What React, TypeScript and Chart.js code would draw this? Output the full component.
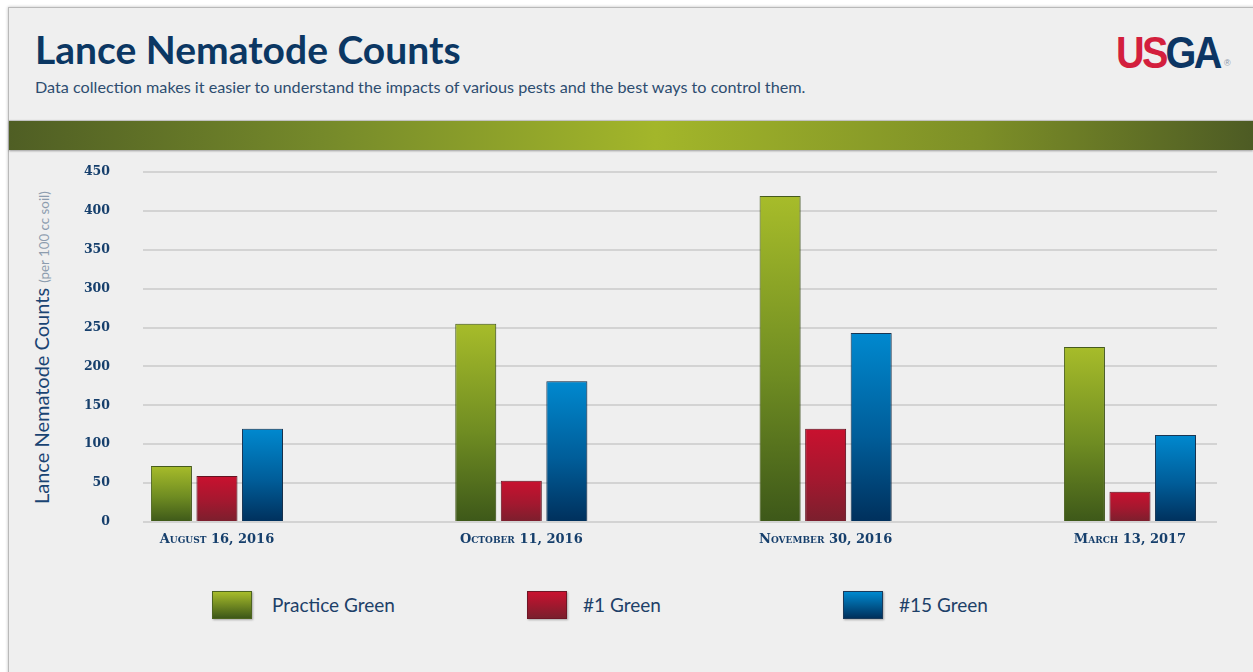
import React, { useEffect, useRef } from 'react';
import { Chart, registerables } from 'chart.js';

Chart.register(...registerables);

const categories = ['August 16, 2016', 'October 11, 2016', 'November 30, 2016', 'March 13, 2017'];
const seriesNames = ['Practice Green', '#1 Green', '#15 Green'];
const practiceGreen = [72, 255, 419, 225];
const green1 = [59, 53, 120, 39];
const green15 = [120, 181, 243, 112];
const yTickValues = [0, 50, 100, 150, 200, 250, 300, 350, 400, 450];

const palettes = [
  { stops: ['#a7bc2a', '#6f8c22', '#3d5819'], border: '#4d6420' },
  { stops: ['#c9112f', '#a3182f', '#7a1f2d'], border: '#6e1626' },
  { stops: ['#0089cf', '#005d99', '#00305c'], border: '#1b3a5a' },
];

function gradientFill(stops: string[]) {
  return (ctx: any) => {
    const chart = ctx.chart;
    const y = chart.scales && chart.scales.y;
    if (!y || ctx.type !== 'data' || !chart.chartArea) return stops[1];
    const v = ctx.parsed ? ctx.parsed.y : 0;
    const t = y.getPixelForValue(v);
    const b = y.getPixelForValue(0);
    if (!isFinite(t) || !isFinite(b) || t === b) return stops[1];
    const g = chart.ctx.createLinearGradient(0, t, 0, b);
    g.addColorStop(0, stops[0]);
    g.addColorStop(0.55, stops[1]);
    g.addColorStop(1, stops[2]);
    return g;
  };
}

const shadowPlugin = {
  id: 'barShadow',
  beforeDatasetsDraw(chart: any) {
    const c = chart.ctx;
    c.save();
    c.shadowColor = 'rgba(0,0,0,0.28)';
    c.shadowBlur = 3;
    c.shadowOffsetX = 1;
    c.shadowOffsetY = 0;
  },
  afterDatasetsDraw(chart: any) {
    chart.ctx.restore();
  },
};

const navy = '#163f6c';

export default function App() {
  const ref = useRef<HTMLCanvasElement | null>(null);

  useEffect(() => {
    if (!ref.current) return;
    const series = [practiceGreen, green1, green15];
    const chart = new Chart(ref.current, {
      type: 'bar',
      data: {
        datasets: series.map((vals, si) => ({
          label: seriesNames[si],
          data: vals.map((v, i) => ({ x: i, y: v })),
          backgroundColor: gradientFill(palettes[si].stops),
          borderColor: palettes[si].border,
          borderWidth: 1,
          categoryPercentage: 0.449,
          barPercentage: 0.9,
        })),
      },
      plugins: [shadowPlugin],
      options: {
        animation: false,
        responsive: true,
        maintainAspectRatio: false,
        layout: { padding: { left: 0, right: 36, top: 22, bottom: 0 } },
        plugins: { legend: { display: false }, tooltip: { enabled: false } },
        scales: {
          x: {
            type: 'linear',
            offset: false,
            min: -0.243,
            max: 3.286,
            grid: { display: false, offset: false, drawTicks: false },
            border: { display: false },
            ticks: {
              stepSize: 1,
              includeBounds: false,
              autoSkip: false,
              maxRotation: 0,
              padding: 10,
              color: navy,
              font: { family: 'DejaVu Serif', size: 13, weight: 'small-caps bold' as any },
              callback: (v: any) => (Number.isInteger(v) && categories[v] ? categories[v] : ''),
            },
            afterFit: (s: any) => {
              s.height = 28;
              s.paddingLeft = 0;
              s.paddingRight = 0;
            },
          },
          y: {
            min: 0,
            max: 450,
            grid: { color: '#d3d3d3', lineWidth: 2, drawTicks: false },
            border: { display: false },
            afterBuildTicks: (s: any) => {
              s.ticks = yTickValues.map((v) => ({ value: v }));
            },
            ticks: {
              padding: 33,
              color: navy,
              font: { family: 'DejaVu Serif', size: 12.5, weight: 'bold' },
            },
            afterFit: (s: any) => {
              s.width = 143;
              s.paddingTop = 8;
              s.paddingBottom = 8;
            },
          },
        },
      },
    });
    return () => chart.destroy();
  }, []);

  const legendBox = (si: number) => ({
    position: 'absolute' as const,
    width: 40,
    height: 28,
    background: `linear-gradient(to bottom, ${palettes[si].stops[0]}, ${palettes[si].stops[2]})`,
    border: `1px solid ${palettes[si].border}`,
    boxSizing: 'border-box' as const,
    boxShadow: '1px 1px 2px rgba(0,0,0,0.3)',
  });

  const legendX = [212, 527, 843];
  const legendTextX = [272, 583, 899];

  return (
    <div style={{ position: 'fixed', left: 0, top: 0, width: 1253, height: 672, background: '#ffffff', overflow: 'hidden' }}>
      <div
        style={{
          position: 'absolute',
          left: 8,
          top: 7,
          width: 1260,
          height: 680,
          background: '#efefef',
          borderTop: '1px solid #b9b9b9',
          borderLeft: '1px solid #b9b9b9',
          boxShadow: '0 0 3px rgba(0,0,0,0.25)',
        }}
      />
      <div
        style={{
          position: 'absolute',
          left: 35,
          top: 25,
          fontFamily: 'Lato',
          fontWeight: 700,
          fontSize: 39,
          color: '#0b3763',
          whiteSpace: 'nowrap',
          lineHeight: '48px',
        }}
      >
        Lance Nematode Counts
      </div>
      <div
        style={{
          position: 'absolute',
          left: 35,
          top: 77,
          fontFamily: 'Lato',
          fontSize: 16.2,
          color: '#2d4d70',
          whiteSpace: 'nowrap',
          lineHeight: '20px',
        }}
      >
        Data collection makes it easier to understand the impacts of various pests and the best ways to control them.
      </div>
      <div
        style={{
          position: 'absolute',
          left: 1116,
          top: 28,
          fontFamily: 'Liberation Sans',
          fontWeight: 700,
          fontSize: 44,
          letterSpacing: -3,
          lineHeight: '50px',
          whiteSpace: 'nowrap',
          transform: 'scaleX(0.9)',
          transformOrigin: 'left top',
        }}
      >
        <span style={{ color: '#d31f3d' }}>US</span>
        <span style={{ color: '#0c3563' }}>GA</span>
      </div>
      <div style={{ position: 'absolute', left: 1224, top: 58, fontFamily: 'Liberation Sans', fontSize: 9, color: '#8a96a6' }}>®</div>
      <div
        style={{
          position: 'absolute',
          left: 9,
          top: 120,
          width: 1244,
          height: 29,
          background:
            'linear-gradient(to right, #4f5e24 0%, #75892a 25%, #a3b62a 52%, #7d8f27 78%, #4d5b24 100%)',
          borderTop: '1px solid #c2c2c2',
          boxShadow: '0 1px 2px rgba(0,0,0,0.35)',
        }}
      />
      <div
        style={{
          position: 'absolute',
          left: 31,
          top: 504,
          transform: 'rotate(-90deg)',
          transformOrigin: 'left top',
          whiteSpace: 'nowrap',
          lineHeight: '20px',
          fontFamily: 'Lato',
        }}
      >
        <span style={{ fontSize: 20, color: '#1a4473' }}>Lance Nematode Counts </span>
        <span style={{ fontSize: 13.3, color: '#8c9cae' }}>(per 100 cc soil)</span>
      </div>
      <div style={{ position: 'absolute', left: 0, top: 150, width: 1253, height: 400 }}>
        <canvas ref={ref} />
      </div>
      {seriesNames.map((name, si) => (
        <React.Fragment key={name}>
          <div style={{ ...legendBox(si), left: legendX[si], top: 591 }} />
          <div
            style={{
              position: 'absolute',
              left: legendTextX[si],
              top: 593,
              fontFamily: 'Lato',
              fontSize: 19,
              color: '#1d4068',
              whiteSpace: 'nowrap',
              lineHeight: '24px',
            }}
          >
            {name}
          </div>
        </React.Fragment>
      ))}
    </div>
  );
}
